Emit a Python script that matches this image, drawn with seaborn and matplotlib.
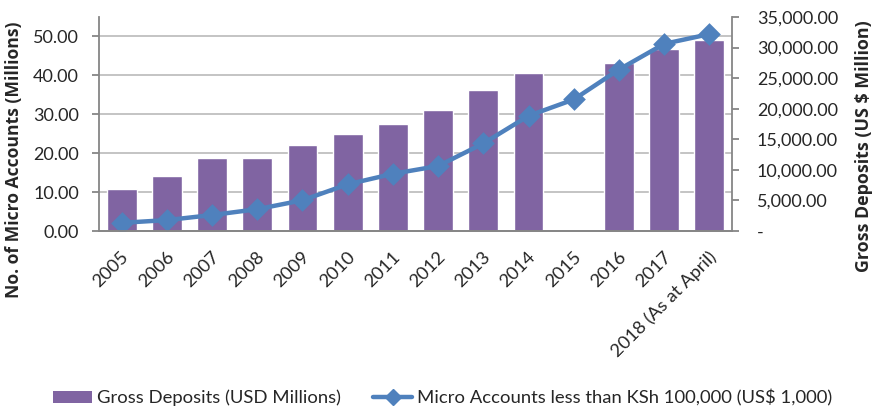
import numpy as np
import pandas as pd
import matplotlib
matplotlib.use("Agg")
import matplotlib.pyplot as plt
from matplotlib.ticker import FuncFormatter, FixedLocator
from matplotlib.transforms import ScaledTranslation
from matplotlib.patches import Patch
from matplotlib.lines import Line2D
import seaborn as sns

# Years on the category axis
years = ["2005", "2006", "2007", "2008", "2009", "2010", "2011", "2012",
         "2013", "2014", "2015", "2016", "2017", "2018 (As at April)"]

# Gross deposits, US$ million (no figure reported for 2015)
gross_deposits = [6840, 8970, 11970, 12020, 14050, 15790, 17490, 19840,
                  23000, 25790, np.nan, 27480, 29840, 31260]

# Micro accounts below KSh 100,000, millions
micro_accounts = [2.1, 2.8, 4.1, 5.6, 7.9, 12.0, 14.7, 16.7,
                  22.5, 29.6, 33.8, 41.5, 48.1, 50.6]

left_ticks = [0, 10, 20, 30, 40, 50]
right_ticks = [0, 5000, 10000, 15000, 20000, 25000, 30000, 35000]
left_max = 55
right_max = 35000

bar_color = "#8064A2"
line_color = "#4F81BD"
axis_grey = "#868686"
grid_grey = "#BFBFBF"

sns.set_style("white")
plt.rcParams["font.family"] = ["Lato", "DejaVu Sans"]

df = pd.DataFrame({"year": years, "deposits": gross_deposits,
                   "accounts": micro_accounts})

fig = plt.figure(figsize=(8.73, 4.08), dpi=100)
ax = fig.add_axes([99 / 873, 1 - 231 / 408, (732 - 99) / 873, (231 - 17) / 408])
ax2 = ax.twinx()

# Bars on the right-hand (deposits) scale
sns.barplot(data=df, x="year", y="deposits", order=years, ax=ax2,
            color=bar_color, saturation=1, width=0.66, errorbar=None)

# Line on the left-hand (accounts) scale, kept above the bars
sns.pointplot(data=df, x="year", y="accounts", order=years, ax=ax,
              color=line_color, markers="D", errorbar=None,
              markersize=9, linewidth=3.2)
ax.set_zorder(ax2.get_zorder() + 1)
ax.patch.set_visible(False)

ax.set_xlim(-0.5, len(years) - 0.5)
ax.set_ylim(0, left_max)
ax2.set_ylim(0, right_max)

ax.yaxis.set_major_locator(FixedLocator(left_ticks))
ax.yaxis.set_major_formatter(FuncFormatter(lambda v, p: f"{v:.2f}"))
ax2.yaxis.set_major_locator(FixedLocator(right_ticks))
ax2.yaxis.set_major_formatter(
    FuncFormatter(lambda v, p: "-" if v == 0 else f"{v:,.2f}"))

# Horizontal gridlines follow the left scale but sit behind the bars
ax2.yaxis.set_minor_locator(
    FixedLocator([t * right_max / left_max for t in left_ticks[1:]]))
ax2.grid(which="minor", axis="y", color=grid_grey, linewidth=1.3)
ax2.tick_params(axis="y", which="minor", length=0)
ax.grid(False)

# Category ticks sit between the bars
ax.xaxis.set_minor_locator(FixedLocator(np.arange(-0.5, len(years), 1.0)))
ax.tick_params(axis="x", which="major", length=0, pad=17)
ax.tick_params(axis="x", which="minor", length=5, width=1.3, color=axis_grey)
ax.tick_params(axis="y", length=5, width=1.3, color=axis_grey,
               labelsize=13, pad=9.4)
ax2.tick_params(axis="y", which="major", length=5, width=1.3,
                color=axis_grey, labelsize=13, pad=13)
ax2.set_xlabel("")
ax.set_xlabel("")

shift = ScaledTranslation(4.5 / 100, 0, fig.dpi_scale_trans)
for lab in ax.get_xticklabels():
    lab.set_rotation(45)
    lab.set_ha("right")
    lab.set_va("center")
    lab.set_rotation_mode("anchor")
    lab.set_fontsize(13.2)
    lab.set_transform(lab.get_transform() + shift)

for a in (ax, ax2):
    a.spines["top"].set_visible(False)
    for side in ("left", "right", "bottom"):
        a.spines[side].set_color(axis_grey)
        a.spines[side].set_linewidth(1.3)
ax2.spines["left"].set_visible(False)
ax.spines["right"].set_visible(False)

ax.set_ylabel("No. of Micro Accounts (Millions)", fontsize=12.6,
              fontweight="bold", family=["Open Sans", "DejaVu Sans"])
ax.yaxis.set_label_coords(-0.120, 0.332)
ax2.set_ylabel("Gross Deposits (US $ Million)", fontsize=12.9,
               fontweight="bold", family=["Open Sans", "DejaVu Sans"])
ax2.yaxis.set_label_coords(1.194, 0.395)

handles = [Patch(facecolor=bar_color, edgecolor="none"),
           Line2D([], [], color=line_color, linewidth=3.2, marker="D",
                  markersize=8)]
fig.legend(handles, ["Gross Deposits (USD Millions)",
                     "Micro Accounts less than KSh 100,000 (US$ 1,000)"],
           loc="center", bbox_to_anchor=(0.507, 0.025), ncol=2,
           frameon=False, fontsize=13.3, handlelength=2.15, handleheight=0.65,
           handletextpad=0.27, columnspacing=1.7)

fig.savefig("out.png", dpi=100)
